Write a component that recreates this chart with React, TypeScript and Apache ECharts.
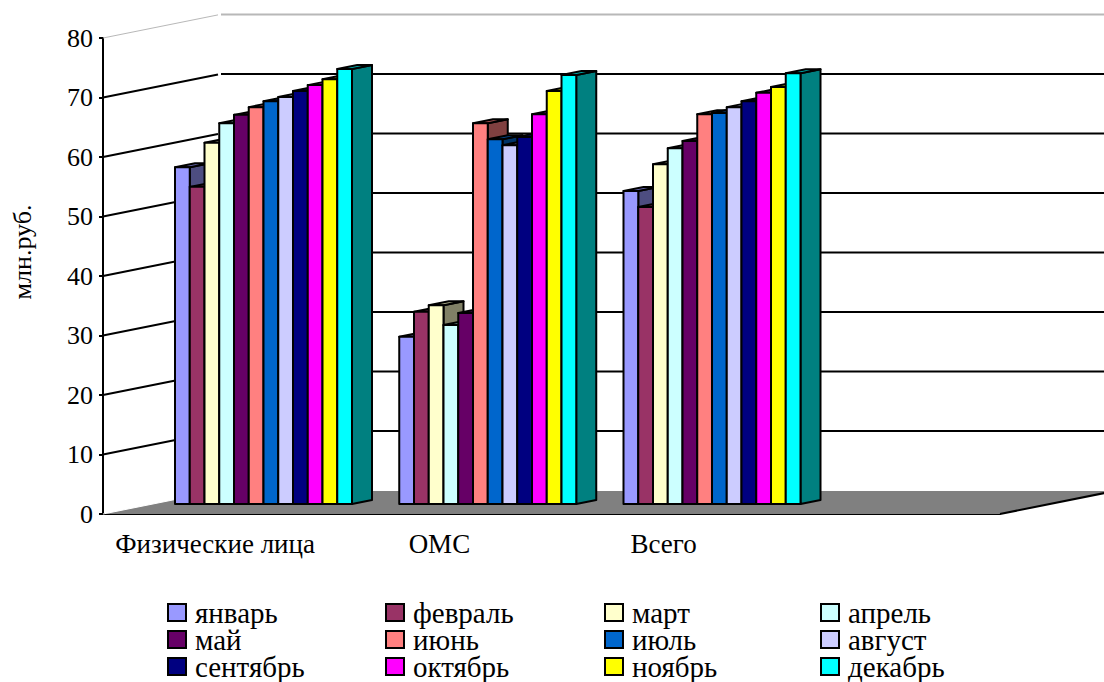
import React, { useEffect, useRef } from "react";
import * as echarts from "echarts";

const categories = ["Физические лица", "ОМС", "Всего", ""];
const months = ["январь", "февраль", "март", "апрель", "май", "июнь", "июль", "август", "сентябрь", "октябрь", "ноябрь", "декабрь"];
const monthColors = ["#9999FF", "#993366", "#FFFFCC", "#CCFFFF", "#660066", "#FF8080", "#0066CC", "#CCCCFF", "#000080", "#FF00FF", "#FFFF00", "#00FFFF"];
const individuals = [56.6, 53.3, 60.7, 64.0, 65.4, 66.7, 67.7, 68.4, 69.4, 70.4, 71.4, 73.1];
const insurance = [28.1, 32.3, 33.4, 30.1, 32.1, 64.0, 61.3, 60.3, 61.7, 65.5, 69.4, 72.1];
const total = [52.6, 49.9, 57.1, 59.8, 61.0, 65.5, 65.7, 66.7, 67.7, 69.1, 70.1, 72.4];
const groups = [individuals, insurance, total];
const gridTicks = [0, 10, 20, 30, 40, 50, 60, 70, 80];

const FONT = "'Liberation Serif', 'Times New Roman', serif";

// Oblique projection of the box: how far the back wall and the bars sit behind the front plane.
const WALL_DX = 117;
const WALL_DY = 23.5;
const BAR_LIFT = 10;
const BAR_DX = 20;
const BAR_DY = 4;
const BAR_W = 14.75;
const GROUP_INSET = 72;

function shade(hex: string, k: number) {
  const n = parseInt(hex.slice(1), 16);
  const c = [(n >> 16) & 255, (n >> 8) & 255, n & 255].map((v) => Math.round(v * k));
  return `rgb(${c[0]},${c[1]},${c[2]})`;
}

function renderFloor(params: any, api: any) {
  const cs = params.coordSys;
  const y0 = api.coord([0, 0])[1];
  const left = cs.x;
  const right = cs.x + cs.width;
  return {
    type: "group",
    children: [
      {
        type: "polygon",
        shape: { points: [[left, y0], [left + WALL_DX, y0 - WALL_DY], [right + WALL_DX, y0 - WALL_DY], [right, y0]] },
        style: { fill: "#808080", stroke: "none" },
      },
      { type: "line", shape: { x1: left, y1: y0, x2: left + WALL_DX, y2: y0 - WALL_DY }, style: { stroke: "#ffffff", lineWidth: 1 } },
      { type: "line", shape: { x1: left + WALL_DX, y1: y0 - WALL_DY, x2: right + WALL_DX, y2: y0 - WALL_DY }, style: { stroke: "#ffffff", lineWidth: 1 } },
      { type: "line", shape: { x1: right, y1: y0, x2: right + WALL_DX, y2: y0 - WALL_DY }, style: { stroke: "#000000", lineWidth: 2 } },
    ],
  };
}

function renderGridLine(params: any, api: any) {
  const tick = api.value(1);
  if (tick === 0) return { type: "group", children: [] };
  const cs = params.coordSys;
  const y = api.coord([0, tick])[1];
  const isTop = tick === 80;
  const stroke = isTop ? "#b8b8b8" : "#000000";
  return {
    type: "group",
    children: [
      {
        type: "line",
        shape: { x1: cs.x, y1: y, x2: cs.x + WALL_DX - 2, y2: y - WALL_DY + 0.4 },
        style: { stroke, lineWidth: isTop ? 1 : 2 },
      },
      {
        type: "line",
        shape: { x1: cs.x + WALL_DX + 1, y1: y - WALL_DY, x2: cs.x + cs.width + WALL_DX, y2: y - WALL_DY },
        style: { stroke, lineWidth: 2 },
      },
    ],
  };
}

function renderBar(params: any, api: any) {
  const cs = params.coordSys;
  const monthIndex = params.seriesIndex - 2;
  const color = monthColors[monthIndex];
  const center = api.coord([api.value(0), 0])[0];
  const band = cs.width / categories.length;
  const x0 = center - band / 2 + GROUP_INSET + monthIndex * BAR_W;
  const x1 = x0 + BAR_W;
  const bottom = api.coord([0, 0])[1] - BAR_LIFT;
  const top = api.coord([0, api.value(1)])[1] - BAR_LIFT;
  const edge = { stroke: "#000000", lineWidth: 2, lineJoin: "round" };
  return {
    type: "group",
    children: [
      {
        type: "polygon",
        shape: { points: [[x1, top], [x1 + BAR_DX, top - BAR_DY], [x1 + BAR_DX, bottom - BAR_DY], [x1, bottom]] },
        style: { fill: shade(color, 0.5), ...edge },
      },
      {
        type: "polygon",
        shape: { points: [[x0, top], [x0 + BAR_DX, top - BAR_DY], [x1 + BAR_DX, top - BAR_DY], [x1, top]] },
        style: { fill: shade(color, 0.7), ...edge },
      },
      {
        type: "rect",
        shape: { x: x0, y: top, width: BAR_W, height: bottom - top },
        style: { fill: color, ...edge },
      },
    ],
  };
}

function legendColumn(names: string[], left: number) {
  return {
    orient: "vertical",
    left,
    top: 598,
    height: 120,
    padding: 0,
    itemGap: -2,
    itemWidth: 18,
    itemHeight: 17,
    selectedMode: false,
    icon: "rect",
    data: names,
    itemStyle: { borderColor: "#000000", borderWidth: 2 },
    textStyle: { fontFamily: FONT, fontSize: 29, color: "#000000", padding: [0, 0, 0, 4] },
  };
}

export default function App() {
  const ref = useRef<HTMLDivElement>(null);

  useEffect(() => {
    document.body.style.margin = "0";
    const chart = echarts.init(ref.current!, undefined, { renderer: "svg" });
    chart.setOption({
      animation: false,
      backgroundColor: "#ffffff",
      grid: { left: 103, top: 38, width: 897, height: 476 },
      xAxis: {
        type: "category",
        data: categories,
        axisLine: { lineStyle: { color: "#000000", width: 2 } },
        axisTick: { show: false },
        axisLabel: { fontFamily: FONT, fontSize: 27, color: "#000000", margin: 16, interval: 0 },
      },
      yAxis: {
        type: "value",
        min: 0,
        max: 80,
        interval: 10,
        splitLine: { show: false },
        axisLine: { show: true, lineStyle: { color: "#000000", width: 2 } },
        axisTick: { show: true, length: 4, lineStyle: { color: "#000000", width: 2 } },
        axisLabel: { fontFamily: FONT, fontSize: 26, color: "#000000", margin: 10 },
      },
      legend: [
        legendColumn([months[0], months[4], months[8]], 167),
        legendColumn([months[1], months[5], months[9]], 385),
        legendColumn([months[2], months[6], months[10]], 604),
        legendColumn([months[3], months[7], months[11]], 820),
      ],
      graphic: [
        {
          type: "text",
          x: 22,
          y: 252,
          rotation: Math.PI / 2,
          style: { text: "млн.руб.", fontFamily: FONT, fontSize: 26, fill: "#000000", textAlign: "center", textVerticalAlign: "middle" },
        },
      ],
      series: [
        { type: "custom", name: "floor", silent: true, z: 1, renderItem: renderFloor, data: [[0, 0]], encode: { x: 0, y: 1 } },
        { type: "custom", name: "walls", silent: true, z: 1, renderItem: renderGridLine, data: gridTicks.map((t) => [0, t]), encode: { x: 0, y: 1 } },
        ...months.map((name, i) => ({
          type: "custom",
          name,
          z: 2,
          itemStyle: { color: monthColors[i] },
          renderItem: renderBar,
          data: groups.map((values, g) => [g, values[i]]),
          encode: { x: 0, y: 1 },
        })),
      ],
    });
    return () => chart.dispose();
  }, []);

  return <div ref={ref} style={{ width: 1104, height: 682, position: "absolute", left: 0, top: 0, overflow: "hidden" }} />;
}
